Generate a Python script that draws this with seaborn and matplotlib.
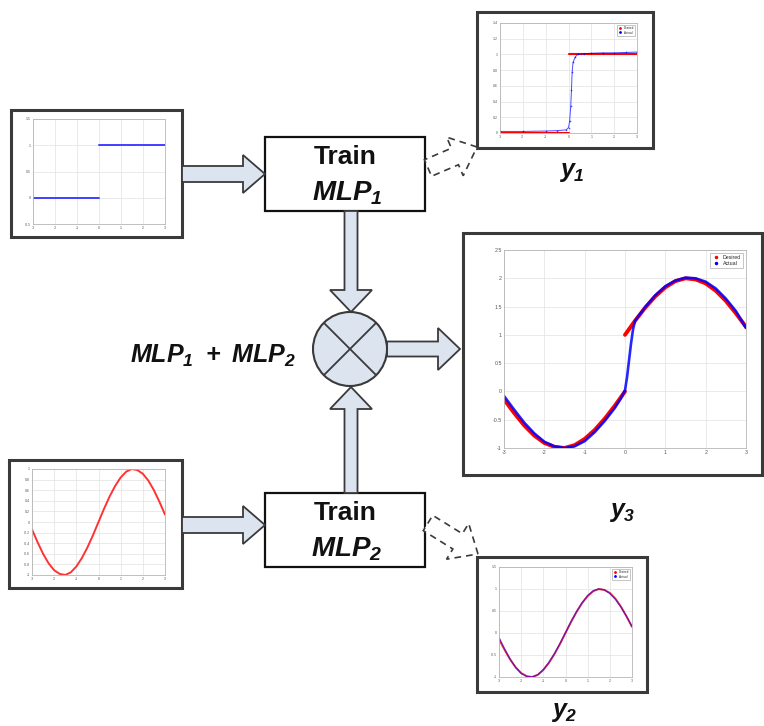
import matplotlib
matplotlib.use("Agg")
import matplotlib.pyplot as plt
import seaborn as sns
from matplotlib.patches import Rectangle, Circle, FancyArrow
from matplotlib.lines import Line2D
from matplotlib.ticker import FuncFormatter

# ---------------- data ----------------
# common x grid of the sine curves
x_grid = [-3.0, -2.75, -2.5, -2.25, -2.0, -1.75, -1.5, -1.25, -1.0, -0.75, -0.5, -0.25,
          0.0, 0.25, 0.5, 0.75, 1.0, 1.25, 1.5, 1.75, 2.0, 2.25, 2.5, 2.75, 3.0]

# input 1: unit step
step_low_x = [-3.0, 0.0]
step_low_y = [0.0, 0.0]
step_high_x = [0.0, 3.0]
step_high_y = [1.0, 1.0]

# input 2: sine
sine_in = [-0.14, -0.38, -0.60, -0.78, -0.91, -0.98, -1.00, -0.95, -0.84, -0.68, -0.48, -0.25,
           0.00, 0.25, 0.48, 0.68, 0.84, 0.95, 1.00, 0.98, 0.91, 0.78, 0.60, 0.38, 0.14]

# y1: MLP1 output on the step
y1_actual_x = [-3.0, -2.0, -1.0, -0.5, -0.1, 0.0, 0.05, 0.1, 0.13, 0.16, 0.2, 0.3, 0.4,
               0.7, 1.0, 1.5, 2.0, 2.5, 3.0]
y1_actual_y = [0.02, 0.02, 0.025, 0.03, 0.04, 0.07, 0.15, 0.35, 0.55, 0.78, 0.90, 0.97, 1.0,
               1.01, 1.015, 1.02, 1.02, 1.025, 1.03]

# y2: MLP2 output on the sine
y2_desired = sine_in
y2_actual = [-0.10, -0.36, -0.59, -0.78, -0.92, -0.99, -1.00, -0.95, -0.83, -0.67, -0.47, -0.24,
             0.01, 0.26, 0.49, 0.69, 0.85, 0.96, 1.00, 0.98, 0.90, 0.77, 0.59, 0.38, 0.15]

# y3: combined output
y3_left_x = [-3.0, -2.75, -2.5, -2.25, -2.0, -1.75, -1.5, -1.25, -1.0, -0.75, -0.5, -0.25, 0.0]
y3_desired_left = [-0.14, -0.38, -0.60, -0.78, -0.91, -0.98, -1.00, -0.95, -0.84, -0.68, -0.48, -0.25, 0.00]
y3_right_x = [0.0, 0.25, 0.5, 0.75, 1.0, 1.25, 1.5, 1.75, 2.0, 2.25, 2.5, 2.75, 3.0]
y3_desired_right = [1.00, 1.25, 1.48, 1.68, 1.84, 1.95, 2.00, 1.98, 1.91, 1.78, 1.60, 1.38, 1.14]
y3_actual_x = [-3.0, -2.75, -2.5, -2.25, -2.0, -1.75, -1.5, -1.25, -1.0, -0.75, -0.5, -0.25,
               -0.1, 0.0, 0.05, 0.1, 0.15, 0.2, 0.25, 0.5, 0.75, 1.0, 1.25, 1.5, 1.75,
               2.0, 2.25, 2.5, 2.75, 3.0]
y3_actual = [-0.08, -0.32, -0.55, -0.74, -0.89, -0.97, -1.00, -0.97, -0.88, -0.72, -0.52, -0.29,
             -0.12, 0.02, 0.25, 0.55, 0.85, 1.10, 1.25, 1.49, 1.70, 1.86, 1.96, 2.01, 2.00,
             1.94, 1.82, 1.64, 1.42, 1.12]

xticks = [-3, -2, -1, 0, 1, 2, 3]

# ---------------- style ----------------
sns.set_style("whitegrid")
plt.rcParams["font.family"] = ["Liberation Sans", "DejaVu Sans"]
plt.rcParams["mathtext.fontset"] = "custom"
plt.rcParams["mathtext.it"] = "Liberation Sans:italic:bold"
plt.rcParams["mathtext.rm"] = "Liberation Sans:italic:bold"
plt.rcParams["mathtext.bf"] = "Liberation Sans:italic:bold"

W, H = 764, 726
fig = plt.figure(figsize=(W / 100, H / 100), dpi=100)
fig.patch.set_facecolor("white")

# full-size canvas for the block diagram, in pixel units
bg = fig.add_axes([0, 0, 1, 1])
bg.set_xlim(0, W)
bg.set_ylim(H, 0)
bg.axis("off")

ARROW_FC = "#dce4f0"
EDGE = "#3a3a3a"


def px_axes(x0, y0, x1, y1):
    return fig.add_axes([x0 / W, 1 - y1 / H, (x1 - x0) / W, (y1 - y0) / H])


def frame(x0, y0, x1, y1, lw=2.2):
    bg.add_patch(Rectangle((x0, y0), x1 - x0, y1 - y0, fc="white", ec=EDGE, lw=lw, zorder=1))


def block_arrow(x, y, dx, dy, width, hw, hl, dashed=False):
    kw = dict(width=width, head_width=hw, head_length=hl, length_includes_head=True, zorder=3)
    if dashed:
        kw.update(fc="white", ec=EDGE, lw=1.2, ls=(0, (4, 3)))
    else:
        kw.update(fc=ARROW_FC, ec=EDGE, lw=1.3)
    bg.add_patch(FancyArrow(x, y, dx, dy, **kw))


fmt = FuncFormatter(lambda v, p: "%g" % v)


def style_axes(ax, fs, yticks, ylim):
    ax.set_xlim(-3, 3)
    ax.set_ylim(*ylim)
    ax.set_xticks(xticks)
    ax.set_yticks(yticks)
    ax.xaxis.set_major_formatter(fmt)
    ax.yaxis.set_major_formatter(fmt)
    ax.tick_params(labelsize=fs, length=0, pad=1.5, colors="#555555")
    ax.grid(color="#e2e2e2", lw=0.5)
    for sp in ax.spines.values():
        sp.set_color("#b5b5b5")
        sp.set_linewidth(0.6)
    ax.set_xlabel("")
    ax.set_ylabel("")


def add_legend(ax, fs, ms):
    handles = [Line2D([], [], ls="none", marker=".", color="red", ms=ms, label="Desired"),
               Line2D([], [], ls="none", marker=".", color="blue", ms=ms, label="Actual")]
    leg = ax.legend(handles=handles, loc="upper right", fontsize=fs, frameon=True,
                    fancybox=False, edgecolor="#9a9a9a", handlelength=1.2, borderpad=0.4,
                    labelspacing=0.25, handletextpad=0.8, borderaxespad=0.5)
    leg.get_frame().set_linewidth(0.5)


# ---------------- frames around the plots ----------------
frame(11, 110, 182, 237)      # input 1
frame(9, 460, 182, 588)       # input 2
frame(477, 12, 653, 148)      # y1
frame(477, 557, 647, 692)     # y2
frame(463, 233, 762, 475)     # y3

# ---------------- training boxes ----------------
for (y0, y1) in [(137, 211), (493, 567)]:
    bg.add_patch(Rectangle((265, y0), 160, y1 - y0, fc="white", ec="#111111", lw=1.6, zorder=2))

bg.text(345, 157, "Train", ha="center", va="center", fontsize=19, fontweight="bold",
        color="#111111", zorder=4)
bg.text(347, 193, r"$MLP_1$", ha="center", va="center", fontsize=20, color="#111111", zorder=4)
bg.text(345, 513, "Train", ha="center", va="center", fontsize=19, fontweight="bold",
        color="#111111", zorder=4)
bg.text(347, 549, r"$MLP_2$", ha="center", va="center", fontsize=20, color="#111111", zorder=4)

# ---------------- arrows ----------------
block_arrow(182, 174, 83, 0, 16, 38, 22)
block_arrow(182, 525, 83, 0, 16, 38, 22)
block_arrow(351, 211, 0, 101, 13, 42, 22)
block_arrow(351, 493, 0, -106, 13, 42, 22)
block_arrow(387, 349, 73, 0, 15, 42, 22)
block_arrow(428, 168, 49, -21, 18, 42, 24, dashed=True)
block_arrow(428, 523, 50, 31, 18, 42, 24, dashed=True)

# summing junction
bg.add_patch(Circle((350, 349), 37, fc=ARROW_FC, ec=EDGE, lw=1.5, zorder=4))
d = 37 * 0.7071
bg.plot([350 - d, 350 + d], [349 - d, 349 + d], color=EDGE, lw=1.3, zorder=5)
bg.plot([350 - d, 350 + d], [349 + d, 349 - d], color=EDGE, lw=1.3, zorder=5)

# ---------------- labels ----------------
bg.text(213, 356, r"$MLP_1\ +\ MLP_2$", ha="center", va="center", fontsize=18, color="#111111")
bg.text(572, 172, r"$y_1$", ha="center", va="center", fontsize=18, color="#111111")
bg.text(564, 712, r"$y_2$", ha="center", va="center", fontsize=18, color="#111111")
bg.text(622, 512, r"$y_3$", ha="center", va="center", fontsize=18, color="#111111")

# ---------------- input 1: step ----------------
ax_in1 = px_axes(33, 119, 165, 224)
sns.lineplot(x=step_low_x, y=step_low_y, ax=ax_in1, color="#4040ff", lw=1.4)
sns.lineplot(x=step_high_x, y=step_high_y, ax=ax_in1, color="#4040ff", lw=1.4)
style_axes(ax_in1, 2.5, [-0.5, 0, 0.5, 1, 1.5], (-0.5, 1.5))

# ---------------- input 2: sine ----------------
ax_in2 = px_axes(32, 469, 165, 575)
sns.lineplot(x=x_grid, y=sine_in, ax=ax_in2, color="#ff3333", lw=1.4)
style_axes(ax_in2, 2.5, [-1, -0.8, -0.6, -0.4, -0.2, 0, 0.2, 0.4, 0.6, 0.8, 1], (-1, 1))

# ---------------- y1 ----------------
ax_y1 = px_axes(500, 23, 637, 133)
sns.lineplot(x=step_low_x, y=step_low_y, ax=ax_y1, color="red", lw=1.5)
sns.lineplot(x=step_high_x, y=step_high_y, ax=ax_y1, color="red", lw=1.5)
sns.lineplot(x=y1_actual_x, y=y1_actual_y, ax=ax_y1, color="blue", lw=0.7, alpha=0.7,
             marker="o", markersize=1.2, markeredgewidth=0)
style_axes(ax_y1, 2.5, [0, 0.2, 0.4, 0.6, 0.8, 1, 1.2, 1.4], (0, 1.4))
add_legend(ax_y1, 2.2, 2)

# ---------------- y2 ----------------
ax_y2 = px_axes(499, 567, 632, 677)
sns.lineplot(x=x_grid, y=y2_desired, ax=ax_y2, color="red", lw=1.4, alpha=0.8)
sns.lineplot(x=x_grid, y=y2_actual, ax=ax_y2, color="blue", lw=1.0, alpha=0.55)
style_axes(ax_y2, 2.5, [-1, -0.5, 0, 0.5, 1, 1.5], (-1, 1.5))
add_legend(ax_y2, 2.2, 2)

# ---------------- y3 ----------------
ax_y3 = px_axes(504, 250, 746, 448)
sns.lineplot(x=y3_left_x, y=y3_desired_left, ax=ax_y3, color="red", lw=2.8)
sns.lineplot(x=y3_right_x, y=y3_desired_right, ax=ax_y3, color="red", lw=2.8)
sns.lineplot(x=y3_actual_x, y=y3_actual, ax=ax_y3, color="blue", lw=1.9, alpha=0.85)
style_axes(ax_y3, 3.8, [-1, -0.5, 0, 0.5, 1, 1.5, 2, 2.5], (-1, 2.5))
add_legend(ax_y3, 3.8, 3)

fig.savefig("out.png", dpi=100, facecolor="white")
